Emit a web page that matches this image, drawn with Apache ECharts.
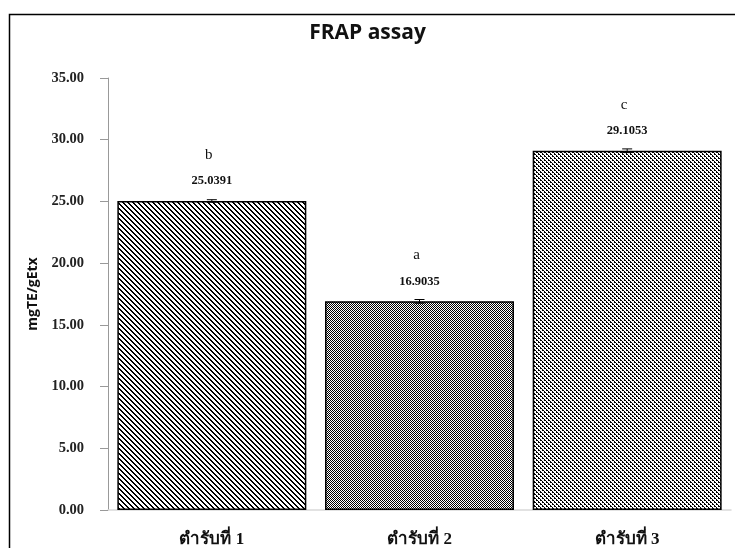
<!DOCTYPE html>
<html>
<head>
<meta charset="utf-8">
<script src="https://cdn.jsdelivr.net/npm/echarts@6/dist/echarts.min.js"></script>
<style>html,body{margin:0;padding:0;background:#fff}#c{width:735px;height:548px}</style>
</head>
<body>
<div id="c"></div>
<script>
const categories = ['ตำรับที่ 1', 'ตำรับที่ 2', 'ตำรับที่ 3'];
const values = [25.0391, 16.9035, 29.1053];
const errors = [0.10, 0.15, 0.15];
const letters = ['b', 'a', 'c'];
const yTicks = { min: 0, max: 35, interval: 5 };

function makeTile(rows) {
  const h = rows.length, w = rows[0].length;
  const c = document.createElement('canvas');
  c.width = w; c.height = h;
  const ctx = c.getContext('2d');
  ctx.fillStyle = '#fff'; ctx.fillRect(0, 0, w, h);
  ctx.fillStyle = '#000';
  for (let y = 0; y < h; y++) for (let x = 0; x < w; x++) if (rows[y][x] === '1') ctx.fillRect(x, y, 1, 1);
  return { image: c, repeat: 'repeat' };
}
const patterns = [
  makeTile(['11000', '01100', '00110', '00011', '10001']),
  makeTile(['10', '01']),
  makeTile(['1100', '0010', '0011', '1000'])
];

const chart = echarts.init(document.getElementById('c'), null, { renderer: 'canvas' });
chart.setOption({
  animation: false,
  backgroundColor: '#fff',
  title: {
    text: 'FRAP assay', left: 'center', top: 18,
    textStyle: { fontFamily: 'Open Sans', fontWeight: 'bold', fontSize: 21, color: '#111' }
  },
  graphic: [{
    type: 'rect', left: 7, top: 12, shape: { width: 800, height: 600 },
    style: { fill: 'none', stroke: '#000', lineWidth: 1.5 }, z: 100, silent: true
  }],
  grid: { left: 108, right: 4, top: 78, bottom: 37 },
  xAxis: {
    type: 'category', data: categories,
    axisLine: { lineStyle: { color: '#d9d9d9', width: 1.5 } },
    axisTick: { show: false },
    axisLabel: { margin: 21, fontFamily: 'Liberation Serif', fontWeight: 'bold', fontSize: 17, color: '#111' }
  },
  yAxis: {
    type: 'value', min: yTicks.min, max: yTicks.max, interval: yTicks.interval,
    name: 'mgTE/gEtx', nameLocation: 'middle', nameGap: 64, nameRotate: 90,
    nameTextStyle: { fontFamily: 'Open Sans', fontWeight: 'bold', fontSize: 14, color: '#111' },
    splitLine: { show: false },
    axisLine: { show: true, lineStyle: { color: '#999' } },
    axisTick: { show: true, length: 8, lineStyle: { color: '#999' } },
    axisLabel: {
      margin: 24, fontFamily: 'Liberation Serif', fontWeight: 'bold', fontSize: 14.5, color: '#222',
      formatter: v => v.toFixed(2)
    }
  },
  series: [{
    type: 'bar', barCategoryGap: '9%',
    data: values.map((v, i) => ({ value: v, itemStyle: { color: patterns[i], borderColor: '#000', borderWidth: 1.5 } }))
  }, {
    type: 'custom', z: 10,
    data: values.map((v, i) => [i, v, errors[i]]),
    renderItem: function (params, api) {
      const i = api.value(0), v = api.value(1), e = api.value(2);
      const top = api.coord([i, v]);
      const hi = api.coord([i, v + e]);
      const lo = api.coord([i, v - e]);
      const cap = 5;
      const st = { stroke: '#000', lineWidth: 1 };
      return {
        type: 'group', children: [
          { type: 'line', shape: { x1: hi[0], y1: hi[1], x2: lo[0], y2: lo[1] }, style: st },
          { type: 'line', shape: { x1: hi[0] - cap, y1: hi[1], x2: hi[0] + cap, y2: hi[1] }, style: st },
          { type: 'line', shape: { x1: lo[0] - cap, y1: lo[1], x2: lo[0] + cap, y2: lo[1] }, style: st },
          { type: 'text', style: { x: top[0], y: top[1] - 20, text: v.toFixed(4), align: 'center', verticalAlign: 'middle',
              font: 'bold 12.5px "Liberation Serif"', fill: '#111' } },
          { type: 'text', style: { x: top[0] - 3, y: top[1] - 46, text: letters[params.dataIndex], align: 'center', verticalAlign: 'middle',
              font: '15px "Liberation Serif"', fill: '#111' } }
        ]
      };
    }
  }]
});
</script>
</body>
</html>
